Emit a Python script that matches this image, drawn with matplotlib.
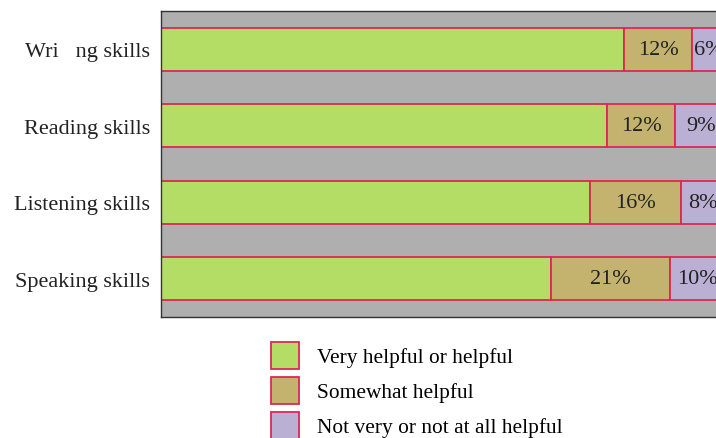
import matplotlib.pyplot as plt
from matplotlib.patches import Patch

# data (percent of respondents)
skills = ["Wri   ng skills", "Reading skills", "Listening skills", "Speaking skills"]
helpful = [82, 79, 76, 69]
somewhat = [12, 12, 16, 21]
not_helpful = [6, 9, 8, 10]
series_names = ["Very helpful or helpful", "Somewhat helpful", "Not very or not at all helpful"]

colors = ["#b3dd65", "#c4b36e", "#bab0d4"]
edge = "#dc2856"
serif = "Liberation Serif"

fig = plt.figure(figsize=(7.16, 4.39), dpi=100)
ax = fig.add_axes([161 / 716, 1 - 318 / 439, 565 / 716, 306 / 439])
ax.set_facecolor("#afafaf")

y = list(range(len(skills)))
left = [0] * len(skills)
for vals, col in zip([helpful, somewhat, not_helpful], colors):
    ax.barh(y, vals, left=left, height=0.56, color=col, edgecolor=edge, linewidth=1.3)
    left = [l + v for l, v in zip(left, vals)]

# percentage labels on the two smaller segments
left = helpful[:]
for vals in [somewhat, not_helpful]:
    for i, v in enumerate(vals):
        ax.text(left[i] + v / 2, i, f"{v}%", ha="center", va="center",
                fontsize=16, family=serif, color="#222222")
    left = [l + v for l, v in zip(left, vals)]

ax.set_xlim(0, 100)
ax.set_ylim(len(skills) - 0.5, -0.5)
ax.set_yticks(y)
ax.set_yticklabels(skills, fontsize=16, family=serif, color="#222222")
ax.tick_params(axis="y", length=0, pad=8)
ax.set_xticks([])
for s in ["left", "top", "bottom"]:
    ax.spines[s].set_color("#333333")
    ax.spines[s].set_linewidth(1.0)
ax.spines["right"].set_visible(False)

handles = [Patch(facecolor=c, edgecolor=edge, linewidth=1.3) for c in colors]
fig.legend(handles, series_names, loc="upper left",
           bbox_to_anchor=(271 / 716, 1 - 343 / 439), frameon=False,
           borderpad=0, borderaxespad=0,
           prop={"family": serif, "size": 15.4},
           handlelength=1.3, handleheight=1.56, labelspacing=0.37, handletextpad=0.84)

fig.savefig("out.png", dpi=100)
